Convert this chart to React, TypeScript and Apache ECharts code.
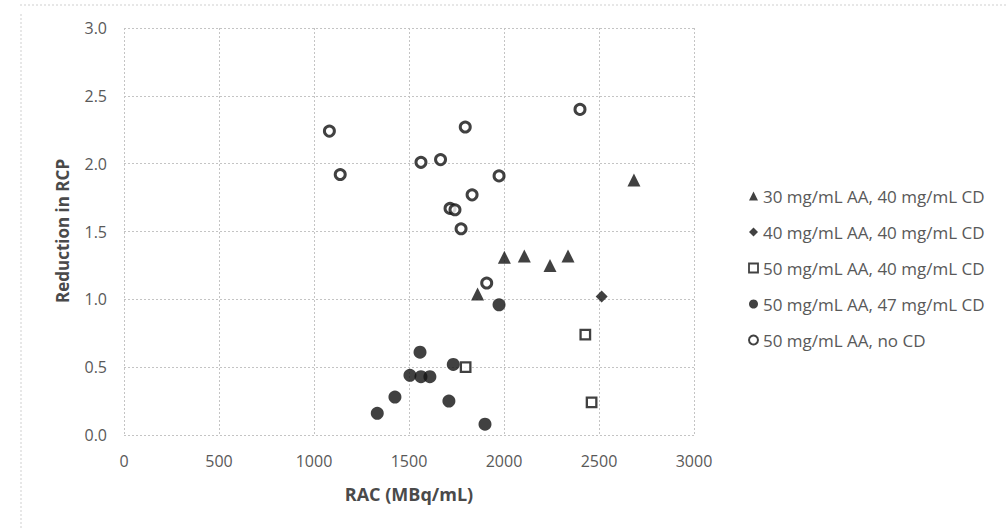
import React, { useEffect, useRef } from "react";
import * as echarts from "echarts";

const xTicks = [0, 500, 1000, 1500, 2000, 2500, 3000];
const yTicks = [0, 0.5, 1.0, 1.5, 2.0, 2.5, 3.0];

const seriesNames = [
  "30 mg/mL AA, 40 mg/mL CD",
  "40 mg/mL AA, 40 mg/mL CD",
  "50 mg/mL AA, 40 mg/mL CD",
  "50 mg/mL AA, 47 mg/mL CD",
  "50 mg/mL AA, no CD",
];

const aa30cd40: [number, number][] = [
  [1861, 1.04], [2002, 1.31], [2107, 1.32], [2242, 1.25], [2337, 1.32], [2684, 1.88],
];
const aa40cd40: [number, number][] = [[2514, 1.02]];
const aa50cd40: [number, number][] = [[1798, 0.5], [2428, 0.74], [2461, 0.24]];
const aa50cd47: [number, number][] = [
  [1333, 0.16], [1426, 0.28], [1505, 0.44], [1558, 0.61], [1563, 0.43],
  [1610, 0.43], [1710, 0.25], [1733, 0.52], [1900, 0.08], [1974, 0.96],
];
const aa50noCd: [number, number][] = [
  [1081, 2.24], [1138, 1.92], [1563, 2.01], [1666, 2.03], [1796, 2.27],
  [1974, 1.91], [1832, 1.77], [1716, 1.67], [1742, 1.66], [1774, 1.52],
  [1909, 1.12], [2400, 2.4],
];

const FONT = "'Open Sans', sans-serif";
const TXT = "#595959";

export default function App() {
  const ref = useRef<HTMLDivElement>(null);
  useEffect(() => {
    if (!ref.current) return;
    const chart = echarts.init(ref.current, null, { renderer: "svg" });
    const grid = { color: "#c4c4c4", width: 1, type: [2, 2] as any };
    chart.setOption({
      animation: false,
      backgroundColor: "#fff",
      textStyle: { fontFamily: FONT },
      grid: { left: 124, right: 314, top: 28, bottom: 94 },
      xAxis: {
        type: "value",
        min: xTicks[0],
        max: xTicks[xTicks.length - 1],
        interval: 500,
        axisLine: { show: false },
        axisTick: { show: false },
        splitLine: { show: true, lineStyle: grid },
        axisLabel: {
          color: TXT, fontSize: 16, fontFamily: FONT, margin: 18,
          formatter: (v: number) => String(v),
        },
      },
      yAxis: {
        type: "value",
        min: yTicks[0],
        max: yTicks[yTicks.length - 1],
        interval: 0.5,
        axisLine: { show: false },
        axisTick: { show: false },
        splitLine: { show: true, lineStyle: grid },
        axisLabel: {
          color: TXT, fontSize: 16, fontFamily: FONT, margin: 17,
          formatter: (v: number) => v.toFixed(1),
        },
      },
      legend: {
        orient: "vertical",
        left: 743,
        top: 181,
        itemWidth: 9,
        itemHeight: 9,
        itemGap: 16,
        textStyle: { color: TXT, fontSize: 17, fontFamily: FONT, lineHeight: 20 },
        data: [
          { name: seriesNames[0] },
          { name: seriesNames[1] },
          { name: seriesNames[2], itemStyle: { borderWidth: 1.8 } },
          { name: seriesNames[3] },
          { name: seriesNames[4], itemStyle: { borderWidth: 2 } },
        ],
      },
      graphic: [
        {
          type: "line",
          shape: { x1: 20, y1: 5, x2: 1008, y2: 5 },
          style: { stroke: "#cfcfcf", lineWidth: 1, lineDash: [2, 2] },
        },
        {
          type: "line",
          shape: { x1: 21, y1: 14, x2: 21, y2: 529 },
          style: { stroke: "#cfcfcf", lineWidth: 1, lineDash: [2, 2] },
        },
        {
          type: "text",
          x: 409,
          y: 494,
          style: {
            text: "RAC (MBq/mL)", fill: "#4a4a4a", font: `bold 18px ${FONT}`,
            align: "center", verticalAlign: "middle",
          },
        },
        {
          type: "text",
          x: 62,
          y: 231,
          rotation: Math.PI / 2,
          style: {
            text: "Reduction in RCP", fill: "#4a4a4a", font: `bold 17px ${FONT}`,
            align: "center", verticalAlign: "middle",
          },
        },
      ],
      series: [
        {
          name: seriesNames[0], type: "scatter", symbol: "triangle", symbolSize: 13,
          itemStyle: { color: "#111" }, data: aa30cd40,
        },
        {
          name: seriesNames[1], type: "scatter", symbol: "diamond", symbolSize: 12,
          itemStyle: { color: "#111" }, data: aa40cd40,
        },
        {
          name: seriesNames[2], type: "scatter", symbol: "rect", symbolSize: 9.5,
          itemStyle: { color: "#fff", borderColor: "#111", borderWidth: 2.3 }, data: aa50cd40,
        },
        {
          name: seriesNames[3], type: "scatter", symbol: "circle", symbolSize: 13,
          itemStyle: { color: "#111" }, data: aa50cd47,
        },
        {
          name: seriesNames[4], type: "scatter", symbol: "circle", symbolSize: 10,
          itemStyle: { color: "#fff", borderColor: "#111", borderWidth: 3 }, data: aa50noCd,
        },
      ],
    });
    return () => chart.dispose();
  }, []);
  return (
    <div
      ref={ref}
      style={{ position: "fixed", left: 0, top: 0, width: 1008, height: 529, background: "#fff" }}
    />
  );
}
